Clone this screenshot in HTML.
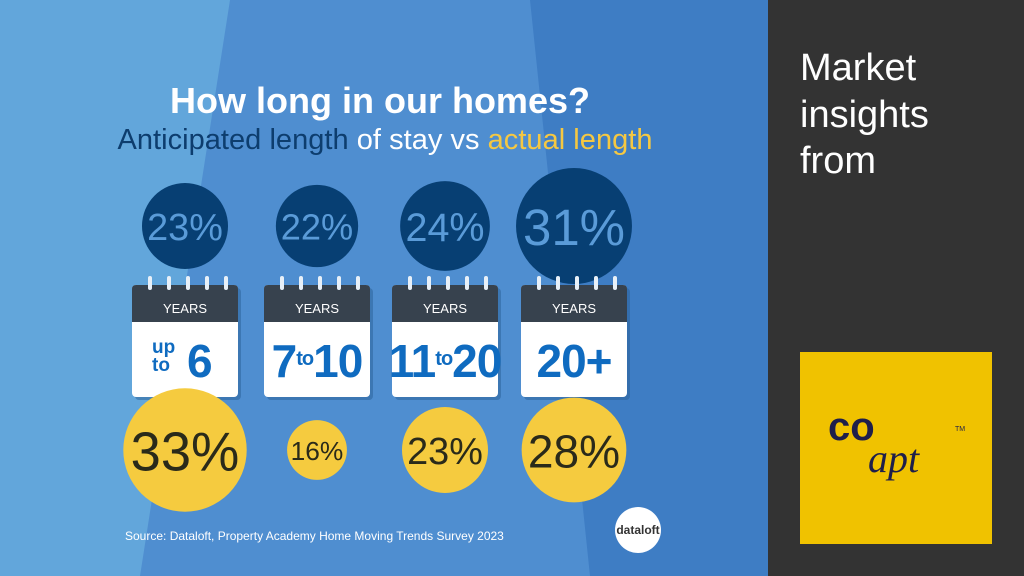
<!DOCTYPE html>
<html><head><meta charset="utf-8"><style>
html,body{margin:0;padding:0;width:1024px;height:576px;overflow:hidden;background:#333;}
svg{display:block;font-family:"Liberation Sans",sans-serif;}
</style></head><body>
<svg id="chart" width="1024" height="576" viewBox="0 0 1024 576">
<rect x="0" y="0" width="768" height="576" fill="#4f8ed0"/>
<polygon points="0,0 230,0 140,576 0,576" fill="#62a6db"/>
<polygon points="530,0 768,0 768,576 590,576" fill="#3e7dc4"/>
<rect x="768" y="0" width="256" height="576" fill="#333333"/>
<text x="380" y="113" text-anchor="middle" font-size="36" font-weight="bold" fill="#fff">How long in our homes?</text>
<text x="385" y="149" text-anchor="middle" font-size="29" textLength="535"><tspan fill="#0d3d6e">Anticipated length</tspan><tspan fill="#fff"> of stay vs </tspan><tspan fill="#f5c842">actual length</tspan></text>
<g id="marks"></g>
<text x="125" y="540" font-size="12" fill="#fff">Source: Dataloft, Property Academy Home Moving Trends Survey 2023</text>
<circle cx="638" cy="530" r="23" fill="#fff"/>
<text x="638" y="534" text-anchor="middle" font-size="12" font-weight="bold" fill="#333">dataloft</text>
<text x="800" y="80" font-size="38" fill="#fff">Market</text>
<text x="800" y="127" font-size="38" fill="#fff">insights</text>
<text x="800" y="173" font-size="38" fill="#fff">from</text>
<rect x="800" y="352" width="192" height="192" fill="#f0c200"/>
<text x="828" y="440" font-size="40" font-weight="bold" fill="#1f1f4a">co</text>
<text x="868" y="472" font-size="40" font-style="italic" font-family="Liberation Serif,serif" fill="#1f1f4a">apt</text>
<text x="955" y="431" font-size="7" fill="#1f1f4a">TM</text>
</svg>
<script>
const categories=["up to 6","7 to 10","11 to 20","20+"];
const anticipated=[23,22,24,31];
const actual=[33,16,23,28];
const centers=[185,317,445,574];
const NS="http://www.w3.org/2000/svg";
const g=document.getElementById('marks');
function rScale(v){return v*1.87;}
function mk(t,a){const e=document.createElementNS(NS,t);for(const k in a)e.setAttribute(k,a[k]);return e;}
categories.forEach((c,i)=>{
 const cx=centers[i];
 const r1=rScale(anticipated[i]);
 const c1=mk('circle',{cx:cx,cy:226,r:r1,fill:'#073f73'});
 
 
 g.appendChild(c1);
 const t1=mk('text',{x:cx,y:226+r1*0.33,'text-anchor':'middle','font-size':r1*0.88,fill:'#5a9bd8'});
 t1.textContent=anticipated[i]+'%';
 
 
 g.appendChild(t1);
 const x0=cx-53,y0=285;
 const cal=mk('g',{});
 
 
 cal.appendChild(mk('rect',{x:x0+3,y:y0+3,width:106,height:112,rx:4,fill:'#2a5f95',opacity:0.5}));
 cal.appendChild(mk('rect',{x:x0,y:y0,width:106,height:112,rx:4,fill:'#fff'}));
 cal.appendChild(mk('path',{d:`M${x0} ${y0+37} V${y0+4} Q${x0} ${y0} ${x0+4} ${y0} H${x0+102} Q${x0+106} ${y0} ${x0+106} ${y0+4} V${y0+37} Z`,fill:'#37424e'}));
 for(let k=0;k<5;k++){cal.appendChild(mk('rect',{x:x0+16+k*19,y:y0-9,width:4,height:14,rx:2,fill:'#e8f0f8'}));}
 const yt=mk('text',{x:cx,y:y0+28,'text-anchor':'middle','font-size':13,fill:'#fff'});yt.textContent='YEARS';cal.appendChild(yt);
 const lab=mk('text',{x:cx,y:y0+92,'text-anchor':'middle','font-size':46,'font-weight':'bold',fill:'#0f6bc0','letter-spacing':'-1'});
 if(c==='up to 6'){lab.setAttribute('text-anchor','start');lab.setAttribute('letter-spacing','0');lab.innerHTML='<tspan font-size="19" x="'+(cx-33)+'" y="'+(y0+68)+'">up</tspan><tspan font-size="19" x="'+(cx-33)+'" y="'+(y0+86)+'">to</tspan><tspan x="'+(cx+2)+'" y="'+(y0+92)+'">6</tspan>';}
 else if(c.indexOf(' to ')>0){const p=c.split(' to ');lab.innerHTML=p[0]+'<tspan font-size="20" dy="-12">to</tspan><tspan dy="12">'+p[1]+'</tspan>';}
 else lab.textContent=c;
 cal.appendChild(lab);
 g.appendChild(cal);
 const r2=rScale(actual[i]);
 const cy2=450;
 const c2=mk('circle',{cx:cx,cy:cy2,r:r2,fill:'#f5cb3f'});
 
 
 g.appendChild(c2);
 const t2=mk('text',{x:cx,y:cy2+r2*0.33,'text-anchor':'middle','font-size':r2*0.88,fill:'#2a2a1a'});
 t2.textContent=actual[i]+'%';
 
 
 g.appendChild(t2);
});
</script>
</body></html>
